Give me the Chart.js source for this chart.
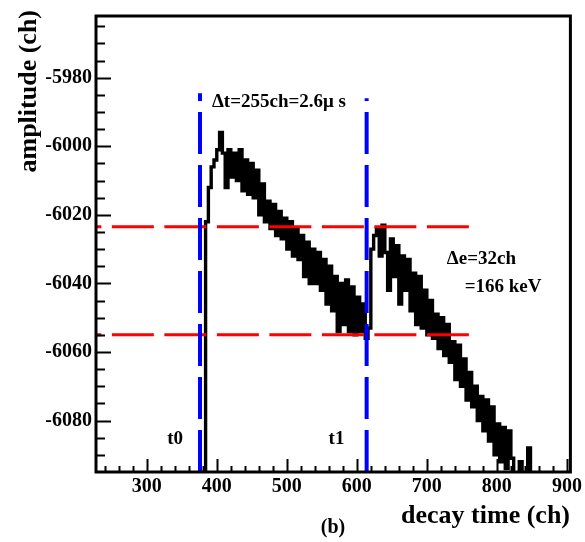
<!DOCTYPE html>
<html>
<head>
<meta charset="utf-8">
<script src="https://cdn.jsdelivr.net/npm/chart.js@4"></script>
<style>
  body { margin: 0; background: #fff; }
  canvas { display: block; }
</style>
</head>
<body>
<canvas id="pulseChart" width="585" height="542"></canvas>
<script>
// histogram of the pulse, one value every 4 channels starting at channel 380
var binStart = 380;
var binWidth = 4;
var amplitude = [
    -6098, -6022, -6012, -6006, -6004, -6001, -5996, -6002, -6012, -6001,
    -6009, -6002, -6010, -6001, -6013, -6004, -6014, -6005, -6015, -6007,
    -6020, -6011, -6022, -6016, -6024, -6017, -6026, -6019, -6027, -6021,
    -6030, -6022, -6032, -6024, -6033, -6026, -6038, -6028, -6040, -6030,
    -6040, -6031, -6042, -6033, -6046, -6035, -6048, -6038, -6054, -6040,
    -6052, -6039, -6054, -6041, -6055, -6044, -6054, -6046, -6056, -6053,
    -6030, -6026, -6024, -6032, -6023, -6031, -6042, -6027, -6038, -6029,
    -6046, -6032, -6042, -6033, -6048, -6037, -6052, -6038, -6053, -6042,
    -6055, -6045, -6056, -6049, -6059, -6050, -6061, -6052, -6063, -6057,
    -6068, -6058, -6070, -6062, -6074, -6066, -6076, -6070, -6080, -6073,
    -6083, -6074, -6086, -6076, -6090, -6081, -6092, -6082, -6094, -6083,
    -6091, -6098, -6097, -6092, -6098, -6097, -6088, -6099
];

var xTickLabels = [300, 400, 500, 600, 700, 800, 900];
var yTickLabels = [-5980, -6000, -6020, -6040, -6060, -6080];

// t0 / t1 markers (blue) and the two amplitude levels (red)
var markerTimes = [376, 614];
var markerTops = [-5984.5, -5986];
var levelValues = [-6023.5, -6055];
var levelEnd = 760;

var xMin = 227.5, xMax = 905;
var yMin = -6095, yMax = -5962;

var fontFamily = '"Liberation Serif", "Times New Roman", serif';

var traceData = amplitude.map(function (v, i) {
    return { x: binStart + i * binWidth, y: v };
});

var datasets = [{
    data: traceData,
    borderColor: '#000',
    borderWidth: 3.4,
    borderJoinStyle: 'miter',
    stepped: true,
    pointRadius: 0,
    order: 3
}];

levelValues.forEach(function (lv) {
    // drawn from right to left so the dash pattern starts at the right end
    datasets.push({
        data: [{ x: levelEnd, y: lv }, { x: xMin, y: lv }],
        borderColor: '#ff0000',
        borderWidth: 3,
        borderDash: [42, 10.5],
        pointRadius: 0,
        order: 2
    });
});

markerTimes.forEach(function (t, i) {
    datasets.push({
        data: [{ x: t, y: yMin }, { x: t, y: markerTops[i] }],
        borderColor: '#0000ff',
        borderWidth: 4,
        borderDash: [42, 11],
        pointRadius: 0,
        order: 1
    });
});

var frameAndText = {
    id: 'frameAndText',
    afterDraw: function (chart) {
        var ctx = chart.ctx;
        var area = chart.chartArea;
        var xs = chart.scales.x;
        var ys = chart.scales.y;
        ctx.save();

        // frame
        ctx.strokeStyle = '#000';
        ctx.lineWidth = 3;
        ctx.strokeRect(area.left, area.top, area.right - area.left, area.bottom - area.top);

        // inward ticks, ROOT style
        ctx.lineWidth = 2;
        ctx.beginPath();
        for (var v = 240; v <= 900; v += 20) {
            var px = Math.round(xs.getPixelForValue(v)) + 0.5;
            var len = (v % 100 === 0) ? 13 : 6;
            ctx.moveTo(px, area.bottom);
            ctx.lineTo(px, area.bottom - len);
        }
        for (var w = -6090; w <= -5965; w += 5) {
            var py = Math.round(ys.getPixelForValue(w)) + 0.5;
            var ylen = (w % 20 === 0) ? 15 : 9;
            ctx.moveTo(area.left, py);
            ctx.lineTo(area.left + ylen, py);
        }
        ctx.stroke();

        ctx.fillStyle = '#000';
        ctx.textBaseline = 'middle';

        // annotations placed in data coordinates
        ctx.font = 'bold 19px ' + fontFamily;
        ctx.textAlign = 'left';
        ctx.fillText('\u0394t=255ch=2.6\u03bc s', xs.getPixelForValue(393), ys.getPixelForValue(-5987));
        ctx.fillText('\u0394e=32ch', xs.getPixelForValue(728.5), ys.getPixelForValue(-6033));
        ctx.fillText('=166 keV', xs.getPixelForValue(754), ys.getPixelForValue(-6041));
        ctx.textAlign = 'center';
        ctx.fillText('t0', xs.getPixelForValue(340.5), ys.getPixelForValue(-6085.5));
        ctx.fillText('t1', xs.getPixelForValue(571), ys.getPixelForValue(-6085.5));

        // axis titles
        ctx.font = 'bold 26px ' + fontFamily;
        ctx.textAlign = 'right';
        ctx.textBaseline = 'alphabetic';
        ctx.fillText('decay time (ch)', 570, 523);

        ctx.save();
        ctx.translate(36, 10);
        ctx.rotate(-Math.PI / 2);
        ctx.textAlign = 'right';
        ctx.textBaseline = 'alphabetic';
        ctx.fillText('amplitude (ch)', 0, 0);
        ctx.restore();

        ctx.font = 'bold 20px ' + fontFamily;
        ctx.textAlign = 'center';
        ctx.textBaseline = 'middle';
        ctx.fillText('(b)', 333, 528);

        ctx.restore();
    }
};

function plainLabel(value) {
    return String(value);
}

var chart = new Chart(document.getElementById('pulseChart'), {
    type: 'line',
    data: { datasets: datasets },
    options: {
        responsive: false,
        animation: false,
        devicePixelRatio: 1,
        layout: { padding: { top: 8, right: 14, left: 0, bottom: 0 } },
        plugins: { legend: { display: false }, tooltip: { enabled: false } },
        scales: {
            x: {
                type: 'linear',
                min: xMin,
                max: xMax,
                grid: { display: false, drawTicks: false },
                border: { display: false },
                ticks: {
                    color: '#000',
                    padding: 3,
                    maxRotation: 0,
                    callback: plainLabel,
                    font: { family: fontFamily, size: 20, weight: 'bold' }
                },
                afterBuildTicks: function (s) {
                    s.ticks = xTickLabels.map(function (v) { return { value: v }; });
                },
                afterFit: function (s) { s.height = 70; }
            },
            y: {
                type: 'linear',
                min: yMin,
                max: yMax,
                grid: { display: false, drawTicks: false },
                border: { display: false },
                ticks: {
                    color: '#000',
                    padding: 4,
                    callback: plainLabel,
                    font: { family: fontFamily, size: 20, weight: 'bold' }
                },
                afterBuildTicks: function (s) {
                    s.ticks = yTickLabels.map(function (v) { return { value: v }; });
                },
                afterFit: function (s) { s.width = 96; }
            }
        }
    },
    plugins: [frameAndText]
});
</script>
</body>
</html>
